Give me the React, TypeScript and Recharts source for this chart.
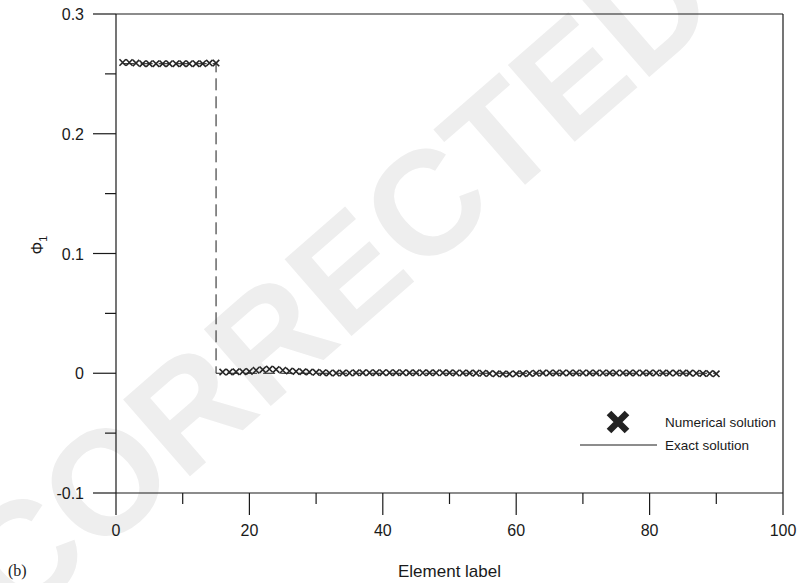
import React from "react";
import {
  ComposedChart,
  Line,
  Scatter,
  XAxis,
  YAxis,
  ReferenceLine,
} from "recharts";

// numerical solution, one value per element (elements 1..90)
const phiNumerical = [
  0.2595, 0.2595, 0.259, 0.2585, 0.2585, 0.2585, 0.2585, 0.2585, 0.2585, 0.2585,
  0.2585, 0.2585, 0.2585, 0.259, 0.259,
  0.001, 0.001, 0.0012, 0.0013, 0.0015, 0.0025, 0.003, 0.0035, 0.0032, 0.0025,
  0.0018, 0.0015, 0.0012, 0.001, 0.0008, 0.0005, 0.0003, 0.0002, 0.0002, 0.0003,
  0.0004, 0.0004, 0.0005, 0.0005, 0.0005, 0.0005, 0.0005, 0.0005, 0.0004, 0.0004,
  0.0004, 0.0004, 0.0004, 0.0004, 0.0004, 0.0003, 0.0003, 0.0002, 0.0001, 0.0,
  -0.0003, -0.0005, -0.0006, -0.0006, -0.0005, -0.0004, -0.0002, 0.0, 0.0002, 0.0003,
  0.0003, 0.0003, 0.0003, 0.0003, 0.0003, 0.0003, 0.0003, 0.0003, 0.0003, 0.0003,
  0.0003, 0.0003, 0.0003, 0.0003, 0.0003, 0.0003, 0.0002, 0.0002, 0.0002, 0.0002,
  0.0001, 0.0, -0.0002, -0.0003, -0.0005,
];

// exact (step) solution
const exactX = [1, 15, 15, 90];
const exactY = [0.2585, 0.2585, 0, 0];

const xTicks = [0, 10, 20, 30, 40, 50, 60, 70, 80, 90, 100];
const yTicks = [-0.1, -0.05, 0, 0.05, 0.1, 0.15, 0.2, 0.25, 0.3];

const numericalData = phiNumerical.map((v, i) => ({ x: i + 1, y: v }));
const exactData = exactX.map((x, i) => ({ x, y: exactY[i] }));

const FONT = "'Liberation Sans', Arial, Helvetica, sans-serif";
const INK = "#1a1a1a";

const XTick = (props: any) => {
  const { x, y, payload } = props;
  const v = payload.value;
  const major = v % 20 === 0;
  return (
    <g>
      <line x1={x} x2={x} y1={y} y2={y + (major ? 22 : 11)} stroke={INK} strokeWidth={1.2} />
      {major && (
        <text x={x} y={y + 43} textAnchor="middle" fontSize={16} fontFamily={FONT} fill={INK}>
          {v}
        </text>
      )}
    </g>
  );
};

const YTick = (props: any) => {
  const { x, y, payload } = props;
  const v = payload.value;
  const major = Math.round(v * 100) % 10 === 0;
  const label = Math.abs(v) < 1e-9 ? "0" : v.toFixed(1);
  return (
    <g>
      <line x1={x - (major ? 23 : 11)} x2={x} y1={y} y2={y} stroke={INK} strokeWidth={1.2} />
      {major && (
        <text x={x - 32} y={y + 6} textAnchor="end" fontSize={16} fontFamily={FONT} fill={INK}>
          {label}
        </text>
      )}
    </g>
  );
};

const Cross = (props: any) => {
  const { cx, cy } = props;
  if (cx == null || cy == null) return null;
  const s = 3.2;
  return (
    <path
      d={`M${cx - s},${cy - s}L${cx + s},${cy + s}M${cx - s},${cy + s}L${cx + s},${cy - s}`}
      stroke="#262626"
      strokeWidth={1.6}
      fill="none"
    />
  );
};

export default function App() {
  return (
    <div style={{ position: "absolute", left: 0, top: 0, width: 799, height: 583, background: "#fff", overflow: "hidden" }}>
      {/* watermark */}
      <svg width={799} height={583} style={{ position: "absolute", left: 0, top: 0 }}>
        <text
          x={0}
          y={0}
          transform="translate(335,282) rotate(-41)"
          textAnchor="middle"
          dominantBaseline="central"
          fontSize={148}
          fontWeight="bold"
          fontFamily={FONT}
          fill="#eeeeee"
        >
          CORRECTED
        </text>
      </svg>

      <div style={{ position: "absolute", left: 0, top: 0 }}>
        <ComposedChart
          width={799}
          height={583}
          margin={{ top: 14, right: 16, bottom: 50, left: 56 }}
        >
          <XAxis
            type="number"
            dataKey="x"
            domain={[0, 100]}
            ticks={xTicks}
            interval={0}
            tickSize={0}
            tickMargin={0}
            tick={<XTick />}
            height={40}
            axisLine={{ stroke: INK, strokeWidth: 1.2 }}
            tickLine={false}
          />
          <YAxis
            type="number"
            dataKey="y"
            domain={[-0.1, 0.3]}
            ticks={yTicks}
            interval={0}
            tickSize={0}
            tickMargin={0}
            tick={<YTick />}
            width={60}
            axisLine={{ stroke: INK, strokeWidth: 1.2 }}
            tickLine={false}
          />
          <ReferenceLine y={0.3} stroke={INK} strokeWidth={1.2} />
          <ReferenceLine x={100} stroke={INK} strokeWidth={1.2} />
          <Line
            data={exactData}
            dataKey="y"
            type="linear"
            stroke={INK}
            strokeWidth={1}
            strokeDasharray="12 6"
            dot={false}
            activeDot={false}
            isAnimationActive={false}
          />
          <Scatter
            data={numericalData}
            dataKey="y"
            shape={<Cross />}
            isAnimationActive={false}
          />
        </ComposedChart>
      </div>

      {/* legend and labels */}
      <svg width={799} height={583} style={{ position: "absolute", left: 0, top: 0, pointerEvents: "none" }}>
        <path d="M609,413L627,431M609,431L627,413" stroke="#222" strokeWidth={6.5} strokeLinecap="butt" />
        <text x={665} y={427} fontSize={13.5} fontFamily={FONT} fill={INK}>
          Numerical solution
        </text>
        <line x1={580} x2={657} y1={445} y2={445} stroke={INK} strokeWidth={1} />
        <text x={665} y={450} fontSize={13.5} fontFamily={FONT} fill={INK}>
          Exact solution
        </text>

        <text x={449.5} y={577} textAnchor="middle" fontSize={17} fontFamily={FONT} fill={INK}>
          Element label
        </text>
        <text
          transform="translate(43,245) rotate(-90)"
          textAnchor="middle"
          fontSize={16}
          fontFamily={FONT}
          fill={INK}
        >
          Φ<tspan fontSize={11} dy={4}>1</tspan>
        </text>
        <text x={8} y={576} fontSize={16} fontFamily="'Liberation Serif', 'Times New Roman', serif" fill={INK}>
          (b)
        </text>
      </svg>
    </div>
  );
}
